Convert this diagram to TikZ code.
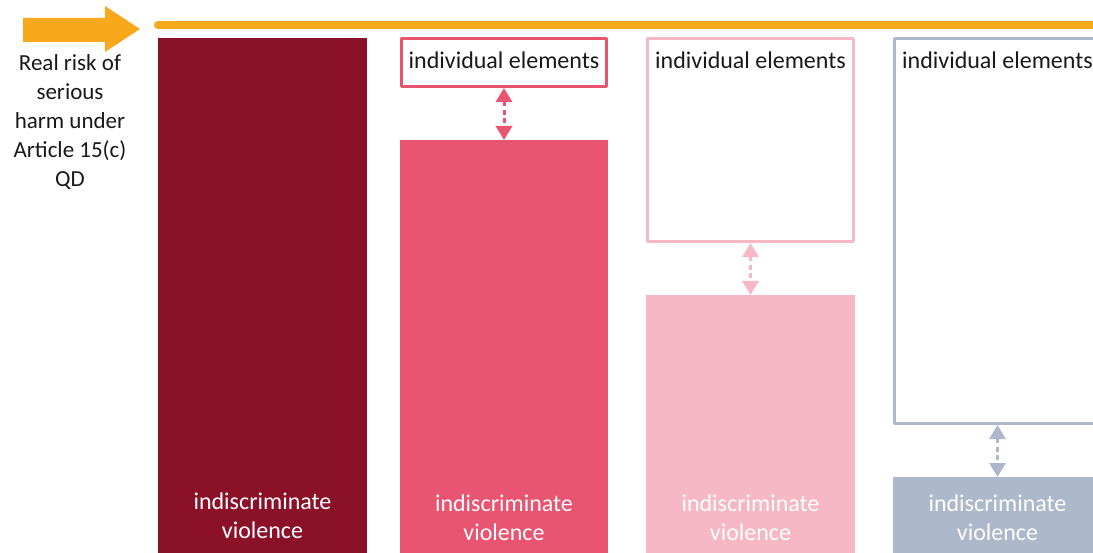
\documentclass[tikz,border=0pt]{standalone}
\usepackage{fontspec}
\setmainfont{Carlito}
\usetikzlibrary{positioning,arrows.meta}
\definecolor{wine}{RGB}{139,17,41}
\definecolor{rose}{RGB}{233,84,113}
\definecolor{blush}{RGB}{245,184,196}
\definecolor{slate}{RGB}{173,184,203}
\definecolor{amber}{RGB}{247,168,27}
\definecolor{ink}{RGB}{25,25,25}
\tikzset{
  bar/.style={fill=#1,draw=none,anchor=north west,minimum width=209pt,inner sep=0pt,outer sep=0pt},
  elembox/.style={draw=#1,line width=3pt,fill=white,anchor=north west,minimum width=206pt,inner sep=0pt,outer sep=0pt},
  elemtext/.style={text=ink,inner sep=0pt,text height=17pt,text depth=0pt},
  violtext/.style={text=white,align=center,inner sep=0pt},
  gap/.style={draw=#1,line width=3pt,dash pattern=on 5pt off 3.5pt,<->,shorten <=1.5pt}
}
\begin{document}
\begin{tikzpicture}[x=1pt,y=-1pt,line join=round,>={Triangle[width=16pt,length=14pt]},font=\fontsize{24}{29}\selectfont]
\useasboundingbox (0,0) rectangle (1093,553);
% orange arrow and rule
\fill[amber] (23,18)--(105,18)--(105,6)--(140,29)--(105,52)--(105,42)--(23,42)--cycle;
\draw[amber,line width=8pt,line cap=round] (158,25)--(1110,25);
\node[text=ink,align=center,font=\fontsize{23}{28.8}\selectfont] (risk) at (70,122) {Real risk of\\serious\\harm under\\Article 15(c)\\QD};
% bars
\node[bar=wine,minimum height=515pt] (bar1) at (158,38) {};
\node[bar=rose,minimum width=208pt,minimum height=413pt] (bar2) at (400,140) {};
\node[bar=blush,minimum height=258pt] (bar3) at (646,295) {};
\node[bar=slate,minimum height=76pt] (bar4) at (893,477) {};
\node[violtext,above=14pt of bar1.south] (viol1) {indiscriminate\\violence};
\node[violtext,above=12pt of bar2.south] (viol2) {indiscriminate\\violence};
\node[violtext,above=12pt of bar3.south] (viol3) {indiscriminate\\violence};
\node[violtext,above=12pt of bar4.south] (viol4) {indiscriminate\\violence};
% individual elements
\node[elembox=rose,minimum width=205pt,minimum height=48pt] (box2) at (401.5,38.5) {};
\node[elembox=blush,minimum height=203pt] (box3) at (647.5,38.5) {};
\node[elembox=slate,minimum height=385pt] (box4) at (894.5,38.5) {};
\node[elemtext,below=12.5pt of box2.north] (elem2) {individual elements};
\node[elemtext,below=12.5pt of box3.north] (elem3) {individual elements};
\node[elemtext,below=12.5pt of box4.north] (elem4) {individual elements};
\draw[gap=rose] (box2.south)--(bar2.north);
\draw[gap=blush] (box3.south)--(bar3.north);
\draw[gap=slate] (box4.south)--(bar4.north);
\end{tikzpicture}
\end{document}
